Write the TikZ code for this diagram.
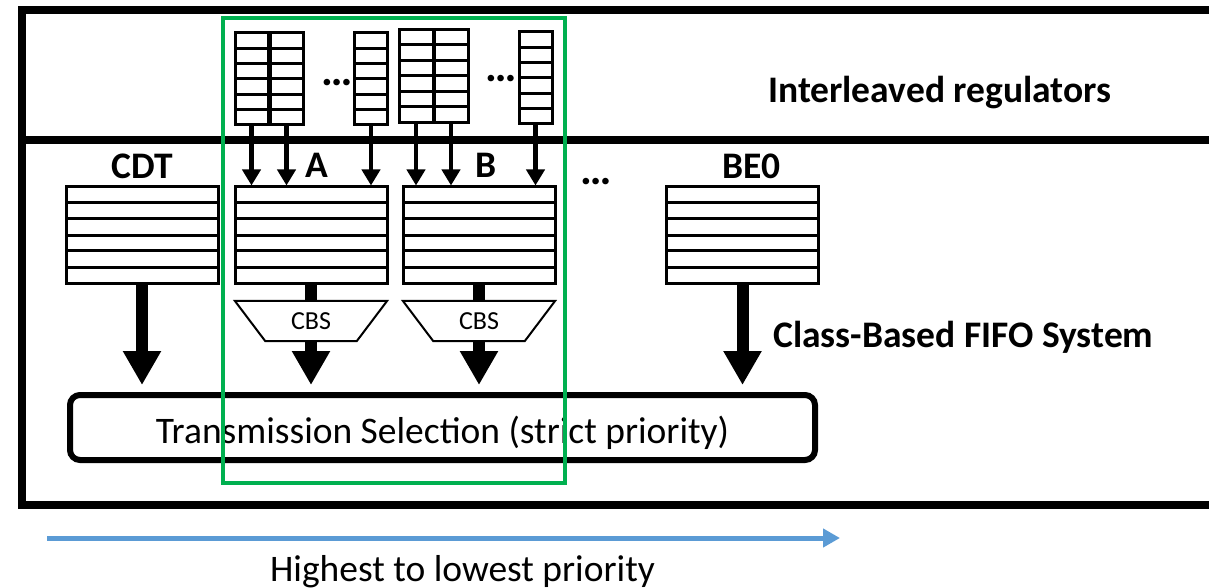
\documentclass[tikz,border=0pt]{standalone}
\usepackage{fontspec}
\setmainfont{Carlito}
\usetikzlibrary{arrows.meta,calc,shapes.geometric,positioning}
\definecolor{boxgreen}{RGB}{0,176,80}
\definecolor{prioblue}{RGB}{91,155,213}

\begin{document}
\begin{tikzpicture}[x=1pt,y=-1pt]
    \tikzset{fifo/.style={draw, line width=3pt, inner sep=0pt,
        minimum width=152pt, minimum height=96pt,
        path picture={\foreach \k in {1,...,5}
          \draw[line width=3pt]
          ($(path picture bounding box.north west)!\k/6!(path picture bounding box.south west)$)
          -- ($(path picture bounding box.north east)!\k/6!(path picture bounding box.south east)$);}},
      reg/.style={fifo, minimum width=33pt, minimum height=92pt},
      cbs/.style={inner sep=0pt, minimum width=152pt, minimum height=40pt,
        font=\fontsize{26}{30}\selectfont},
      lbl/.style={inner sep=0pt, font=\bfseries\fontsize{37.5}{42}\selectfont},
      dots/.style={lbl, font=\bfseries\fontsize{44}{48}\selectfont},
      feed/.style={line width=4.5pt, -{Triangle[width=18pt,length=16pt]}},
      drain/.style={line width=12pt, -{Triangle[width=36pt,length=34pt]}, shorten >=7pt}}
    \useasboundingbox (0,0) rectangle (1209,588);
    \draw[line width=8pt] (1209,10) -- (22,10) -- (22,505) -- (1209,505);
    \draw[line width=8pt] (22,140) -- (1209,140);
    \node[reg] (r1) at (251.5,79) {};
    \node[reg] (r2) at (286.5,79) {};
    \node[reg] (r3) at (371,79) {};
    \node[reg, minimum width=34pt, minimum height=93pt] (r4) at (416,76) {};
    \node[reg, minimum width=34pt, minimum height=93pt] (r5) at (451,76) {};
    \node[reg] (r6) at (535.5,78) {};
    \node[dots] (dA) at (337.5,83) {…};
    \node[dots] (dB) at (501.5,79) {…};
    \node[lbl, anchor=base west] (ireg) at (768,103) {Interleaved regulators};
    \node[fifo] (cdt) at (142,235) {};
    \node[fifo] (qA) at (311,235) {};
    \node[fifo] (qB) at (479,235) {};
    \node[fifo] (be0) at (742.5,235) {};
    \node[lbl] (lcdt) at (142,166) {CDT};
    \node[lbl] (lA) at (317,165) {A};
    \node[lbl] (lB) at (486,165) {B};
    \node[dots] (dC) at (596.5,182) {…};
    \node[lbl] (lbe0) at (751.5,166) {BE0};
    \node[cbs] (cbsA) at (311,321) {CBS};
    \node[cbs] (cbsB) at (479,321) {CBS};
    \draw[line width=2pt] (cbsA.north west) -- (cbsA.north east)
      -- ([xshift=-30.5pt]cbsA.south east) -- ([xshift=30.5pt]cbsA.south west) -- cycle;
    \draw[line width=2pt] (cbsB.north west) -- (cbsB.north east)
      -- ([xshift=-30.5pt]cbsB.south east) -- ([xshift=30.5pt]cbsB.south west) -- cycle;
    \node[lbl, anchor=base west] (cbfs) at (773,347) {Class-Based FIFO System};
    \node[draw, line width=6pt, rounded corners=10pt, minimum width=745pt,
      minimum height=65pt, text height=31pt, text depth=0pt,
      font=\fontsize{37.5}{42}\selectfont] (ts) at (442.5,427.5)
      {Transmission Selection (strict priority)};
    \draw[feed] (r1.south) -- (r1.south |- qA.north);
    \draw[feed] (r2.south) -- (r2.south |- qA.north);
    \draw[feed] (r3.south) -- (r3.south |- qA.north);
    \draw[feed] (r4.south) -- (r4.south |- qB.north);
    \draw[feed] (r5.south) -- (r5.south |- qB.north);
    \draw[feed] (r6.south) -- (r6.south |- qB.north);
    \draw[line width=12pt] (qA.south) -- (cbsA.north);
    \draw[line width=12pt] (qB.south) -- (cbsB.north);
    \draw[drain] (cdt.south) -- (cdt.south |- ts.north);
    \draw[drain] (cbsA.south) -- (cbsA.south |- ts.north);
    \draw[drain] (cbsB.south) -- (cbsB.south |- ts.north);
    \draw[drain] (be0.south) -- (be0.south |- ts.north);
    \draw[boxgreen, line width=4pt] (222.5,18) rectangle (564.5,483);
    \coordinate (hi) at (47,538);
    \coordinate (lo) at (840,538);
    \draw[prioblue, line width=5pt, -{Triangle[width=18pt,length=17pt]}] (hi) -- (lo);
    \node[inner sep=0pt, anchor=base, font=\fontsize{37.5}{42}\selectfont] (prio) at (462.5,581)
      {Highest to lowest priority};
\end{tikzpicture}
\end{document}
